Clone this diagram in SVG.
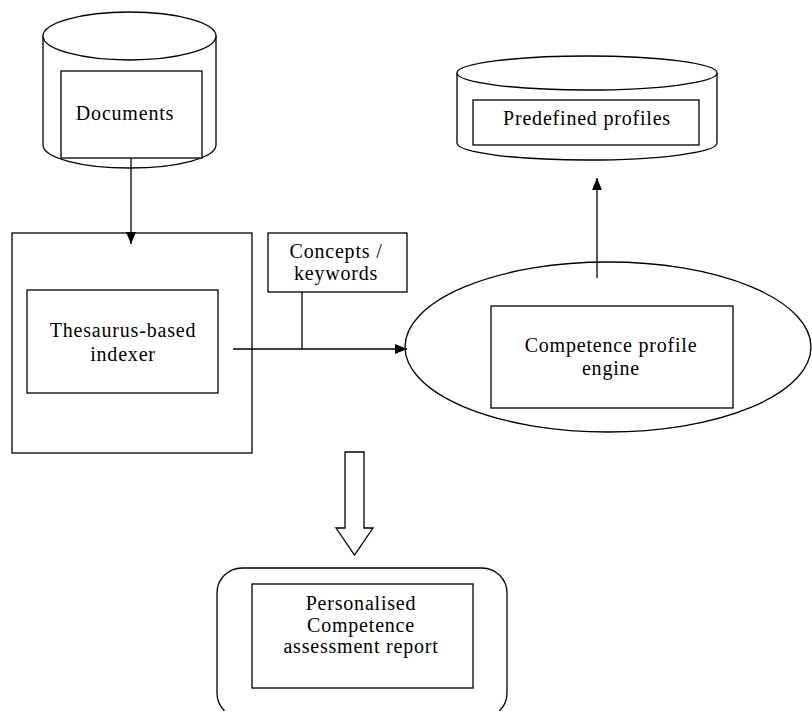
<svg xmlns="http://www.w3.org/2000/svg" width="812" height="711" viewBox="0 0 812 711">
<style>
.s{fill:none;stroke:#000;stroke-width:1.3}
.w{fill:#fff;stroke:#000;stroke-width:1.3}
.t{font-family:"Liberation Serif","Times New Roman",serif;font-size:20px;letter-spacing:0.8px;fill:#000;text-anchor:middle}
</style>
<defs>
<marker id="ah" viewBox="0 0 12 10" refX="12" refY="5" markerWidth="12" markerHeight="10" markerUnits="userSpaceOnUse" orient="auto">
<path d="M0,0 L12,5 L0,10 Z" fill="#000"/>
</marker>
</defs>
<rect width="812" height="711" fill="#fff"/>
<g id="documents">
<path class="w" d="M43,36 L43,145 A86.5,23 0 0 0 216,145 L216,36"/>
<ellipse class="w" cx="129.5" cy="36" rx="86.5" ry="24"/>
<rect class="w" x="61" y="71" width="141" height="87"/>
<text class="t" x="125" y="120">Documents</text>
</g>
<g id="indexer">
<rect class="w" x="12" y="233" width="240" height="220"/>
<rect class="w" x="27" y="290" width="191" height="103"/>
<text class="t" x="123" y="337">Thesaurus-based</text>
<text class="t" x="123" y="361">indexer</text>
</g>
<g id="concepts">
<rect class="w" x="268" y="233" width="139" height="59"/>
<text class="t" x="336" y="258">Concepts /</text>
<text class="t" x="336" y="280">keywords</text>
</g>
<g id="engine">
<ellipse class="s" cx="608" cy="347" rx="203" ry="85"/>
<rect class="w" x="491" y="306" width="242" height="102"/>
<text class="t" x="611" y="352">Competence profile</text>
<text class="t" x="611" y="375">engine</text>
</g>
<g id="profiles">
<path class="w" d="M457,73 L457,143 A130,17 0 0 0 717,143 L717,73"/>
<ellipse class="w" cx="587" cy="73" rx="130" ry="17"/>
<rect class="w" x="473" y="100" width="226" height="45"/>
<text class="t" x="587" y="125">Predefined profiles</text>
</g>
<g id="report">
<rect class="w" x="217" y="568" width="290" height="150" rx="25" ry="25"/>
<rect class="w" x="252" y="584" width="221" height="104"/>
<text class="t" x="361" y="610">Personalised</text>
<text class="t" x="361" y="632">Competence</text>
<text class="t" x="361" y="653">assessment report</text>
</g>
<g id="connectors">
<line class="s" x1="131" y1="158" x2="131" y2="244" marker-end="url(#ah)"/>
<line class="s" x1="233" y1="349" x2="407" y2="349" marker-end="url(#ah)"/>
<line class="s" x1="302" y1="292" x2="302" y2="349"/>
<line class="s" x1="597" y1="278" x2="597" y2="178" marker-end="url(#ah)"/>
<path class="w" d="M345,452 L364,452 L364,528 L373,528 L354.5,555 L336,528 L345,528 Z"/>
</g>
</svg>
